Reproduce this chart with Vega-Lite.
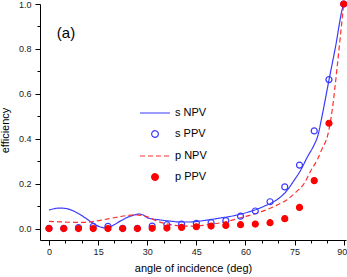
{
  "$schema": "https://vega.github.io/schema/vega-lite/v6.json",
  "width": 306,
  "height": 236,
  "autosize": {"type": "none"},
  "padding": {"left": 40, "top": 4, "right": 1, "bottom": 37},
  "background": "white",
  "config": {
    "view": {"stroke": null},
    "font": "Liberation Sans",
    "axis": {
      "grid": false,
      "domainColor": "#000000",
      "domainWidth": 1,
      "tickColor": "#000000",
      "labelColor": "#222222",
      "labelFontSize": 9,
      "labelFont": "Liberation Sans",
      "titleFont": "Liberation Sans",
      "titleFontSize": 11,
      "titleFontWeight": "normal",
      "titleColor": "#000000",
      "labelOverlap": false,
      "labelFlush": false
    },
    "legend": {
      "orient": "none",
      "legendX": 99,
      "legendY": 93,
      "padding": 0,
      "title": null,
      "labelFontSize": 11,
      "labelFont": "Liberation Sans",
      "labelColor": "#000000",
      "labelOffset": 4,
      "rowPadding": -7.2,
      "symbolSize": 100,
      "symbolStrokeWidth": 1.2
    }
  },
  "datasets": {
    "curves": [
      {"series": "s NPV", "angle": 0, "eff": 0.084},
      {"series": "s NPV", "angle": 1.5, "eff": 0.09},
      {"series": "s NPV", "angle": 3.5, "eff": 0.093},
      {"series": "s NPV", "angle": 5.5, "eff": 0.09},
      {"series": "s NPV", "angle": 7.5, "eff": 0.08},
      {"series": "s NPV", "angle": 9.5, "eff": 0.064},
      {"series": "s NPV", "angle": 11.5, "eff": 0.045},
      {"series": "s NPV", "angle": 13.5, "eff": 0.025},
      {"series": "s NPV", "angle": 15.5, "eff": 0.01},
      {"series": "s NPV", "angle": 17, "eff": 0.005},
      {"series": "s NPV", "angle": 18.5, "eff": 0.008},
      {"series": "s NPV", "angle": 20, "eff": 0.02},
      {"series": "s NPV", "angle": 22, "eff": 0.037},
      {"series": "s NPV", "angle": 24, "eff": 0.052},
      {"series": "s NPV", "angle": 26, "eff": 0.062},
      {"series": "s NPV", "angle": 27.5, "eff": 0.066},
      {"series": "s NPV", "angle": 28.8, "eff": 0.062},
      {"series": "s NPV", "angle": 30, "eff": 0.05},
      {"series": "s NPV", "angle": 31.5, "eff": 0.045},
      {"series": "s NPV", "angle": 34, "eff": 0.04},
      {"series": "s NPV", "angle": 37, "eff": 0.035},
      {"series": "s NPV", "angle": 40, "eff": 0.031},
      {"series": "s NPV", "angle": 43, "eff": 0.031},
      {"series": "s NPV", "angle": 46, "eff": 0.035},
      {"series": "s NPV", "angle": 49, "eff": 0.041},
      {"series": "s NPV", "angle": 52, "eff": 0.048},
      {"series": "s NPV", "angle": 55, "eff": 0.055},
      {"series": "s NPV", "angle": 58.5, "eff": 0.066},
      {"series": "s NPV", "angle": 61, "eff": 0.076},
      {"series": "s NPV", "angle": 63.5, "eff": 0.088},
      {"series": "s NPV", "angle": 66, "eff": 0.103},
      {"series": "s NPV", "angle": 68.5, "eff": 0.12},
      {"series": "s NPV", "angle": 70.7, "eff": 0.142},
      {"series": "s NPV", "angle": 72.5, "eff": 0.168},
      {"series": "s NPV", "angle": 74.8, "eff": 0.215},
      {"series": "s NPV", "angle": 76.8, "eff": 0.26},
      {"series": "s NPV", "angle": 78.9, "eff": 0.32},
      {"series": "s NPV", "angle": 81, "eff": 0.375},
      {"series": "s NPV", "angle": 82, "eff": 0.41},
      {"series": "s NPV", "angle": 83.5, "eff": 0.51},
      {"series": "s NPV", "angle": 85.5, "eff": 0.662},
      {"series": "s NPV", "angle": 87.5, "eff": 0.81},
      {"series": "s NPV", "angle": 89.6, "eff": 0.98},
      {"series": "s NPV", "angle": 90, "eff": 1.0},
      {"series": "p NPV", "angle": 0, "eff": 0.034},
      {"series": "p NPV", "angle": 3, "eff": 0.032},
      {"series": "p NPV", "angle": 6, "eff": 0.03},
      {"series": "p NPV", "angle": 9, "eff": 0.029},
      {"series": "p NPV", "angle": 11, "eff": 0.029},
      {"series": "p NPV", "angle": 13, "eff": 0.032},
      {"series": "p NPV", "angle": 15.5, "eff": 0.038},
      {"series": "p NPV", "angle": 18, "eff": 0.045},
      {"series": "p NPV", "angle": 21, "eff": 0.053},
      {"series": "p NPV", "angle": 24, "eff": 0.06},
      {"series": "p NPV", "angle": 26.5, "eff": 0.063},
      {"series": "p NPV", "angle": 28.5, "eff": 0.06},
      {"series": "p NPV", "angle": 30.5, "eff": 0.052},
      {"series": "p NPV", "angle": 32.5, "eff": 0.038},
      {"series": "p NPV", "angle": 35, "eff": 0.026},
      {"series": "p NPV", "angle": 38, "eff": 0.017},
      {"series": "p NPV", "angle": 41, "eff": 0.013},
      {"series": "p NPV", "angle": 44, "eff": 0.013},
      {"series": "p NPV", "angle": 47, "eff": 0.016},
      {"series": "p NPV", "angle": 50, "eff": 0.022},
      {"series": "p NPV", "angle": 54, "eff": 0.032},
      {"series": "p NPV", "angle": 58.5, "eff": 0.05},
      {"series": "p NPV", "angle": 63.5, "eff": 0.07},
      {"series": "p NPV", "angle": 66.6, "eff": 0.086},
      {"series": "p NPV", "angle": 69.5, "eff": 0.105},
      {"series": "p NPV", "angle": 72.7, "eff": 0.13},
      {"series": "p NPV", "angle": 75.5, "eff": 0.165},
      {"series": "p NPV", "angle": 77.8, "eff": 0.2},
      {"series": "p NPV", "angle": 80, "eff": 0.26},
      {"series": "p NPV", "angle": 82, "eff": 0.31},
      {"series": "p NPV", "angle": 83.5, "eff": 0.36},
      {"series": "p NPV", "angle": 85, "eff": 0.41},
      {"series": "p NPV", "angle": 86.5, "eff": 0.53},
      {"series": "p NPV", "angle": 88, "eff": 0.72},
      {"series": "p NPV", "angle": 89, "eff": 0.86},
      {"series": "p NPV", "angle": 90, "eff": 1.0}
    ],
    "points": [
      {"series": "s PPV", "angle": 0, "eff": 0.003},
      {"series": "s PPV", "angle": 4.5, "eff": 0.003},
      {"series": "s PPV", "angle": 9, "eff": 0.006},
      {"series": "s PPV", "angle": 13.5, "eff": 0.012},
      {"series": "s PPV", "angle": 18, "eff": 0.012},
      {"series": "s PPV", "angle": 22.5, "eff": 0.003},
      {"series": "s PPV", "angle": 27, "eff": 0.003},
      {"series": "s PPV", "angle": 31.5, "eff": 0.013},
      {"series": "s PPV", "angle": 36, "eff": 0.019},
      {"series": "s PPV", "angle": 40.5, "eff": 0.022},
      {"series": "s PPV", "angle": 45, "eff": 0.025},
      {"series": "s PPV", "angle": 49.5, "eff": 0.028},
      {"series": "s PPV", "angle": 54, "eff": 0.037},
      {"series": "s PPV", "angle": 58.5, "eff": 0.057},
      {"series": "s PPV", "angle": 63, "eff": 0.08},
      {"series": "s PPV", "angle": 67.5, "eff": 0.121},
      {"series": "s PPV", "angle": 72, "eff": 0.187},
      {"series": "s PPV", "angle": 76.5, "eff": 0.284},
      {"series": "s PPV", "angle": 81, "eff": 0.436},
      {"series": "s PPV", "angle": 85.5, "eff": 0.664},
      {"series": "s PPV", "angle": 90, "eff": 1.0},
      {"series": "p PPV", "angle": 0, "eff": 0.002},
      {"series": "p PPV", "angle": 4.5, "eff": 0.002},
      {"series": "p PPV", "angle": 9, "eff": 0.002},
      {"series": "p PPV", "angle": 13.5, "eff": 0.002},
      {"series": "p PPV", "angle": 18, "eff": 0.002},
      {"series": "p PPV", "angle": 22.5, "eff": 0.002},
      {"series": "p PPV", "angle": 27, "eff": 0.002},
      {"series": "p PPV", "angle": 31.5, "eff": 0.003},
      {"series": "p PPV", "angle": 36, "eff": 0.004},
      {"series": "p PPV", "angle": 40.5, "eff": 0.007},
      {"series": "p PPV", "angle": 45, "eff": 0.01},
      {"series": "p PPV", "angle": 49.5, "eff": 0.013},
      {"series": "p PPV", "angle": 54, "eff": 0.016},
      {"series": "p PPV", "angle": 58.5, "eff": 0.019},
      {"series": "p PPV", "angle": 63, "eff": 0.022},
      {"series": "p PPV", "angle": 67.5, "eff": 0.028},
      {"series": "p PPV", "angle": 72, "eff": 0.046},
      {"series": "p PPV", "angle": 76.5, "eff": 0.096},
      {"series": "p PPV", "angle": 81, "eff": 0.215},
      {"series": "p PPV", "angle": 85.5, "eff": 0.47},
      {"series": "p PPV", "angle": 90, "eff": 1.0}
    ],
    "annotation": [
      {"label": "(a)", "angle": 2.4, "eff": 0.873}
    ]
  },
  "encoding": {
    "x": {
      "field": "angle",
      "type": "quantitative",
      "scale": {"domain": [-2.75, 90.7], "nice": false, "zero": false},
      "axis": {
        "title": "angle of incidence (deg)",
        "values": [0, 5, 10, 15, 20, 25, 30, 35, 40, 45, 50, 55, 60, 65, 70, 75, 80, 85, 90],
        "labelExpr": "datum.value % 15 === 0 ? datum.label : ''",
        "tickSize": {"condition": {"test": "datum.value % 15 === 0", "value": 5}, "value": 3},
        "labelOffset": {"condition": {"test": "datum.value === 90", "value": -2}, "value": 0},
        "labelPadding": 2,
        "titlePadding": 6
      }
    },
    "y": {
      "field": "eff",
      "type": "quantitative",
      "scale": {"domain": [-0.049, 1.0], "nice": false, "zero": false},
      "axis": {
        "title": "efficiency",
        "values": [0, 0.1, 0.2, 0.3, 0.4, 0.5, 0.6, 0.7, 0.8, 0.9, 1.0],
        "labelExpr": "round(datum.value * 10) % 2 === 0 ? format(datum.value, '.1f') : ''",
        "tickSize": {"condition": {"test": "round(datum.value * 10) % 2 === 0", "value": 5}, "value": 3},
        "labelPadding": 4,
        "titlePadding": 8,
        "titleY": 126
      }
    }
  },
  "layer": [
    {
      "data": {"name": "curves"},
      "mark": {"type": "line", "interpolate": "monotone", "strokeWidth": 1.2},
      "encoding": {
        "stroke": {
          "field": "series",
          "type": "nominal",
          "sort": ["s NPV", "s PPV", "p NPV", "p PPV"],
          "scale": {"domain": ["s NPV", "s PPV", "p NPV", "p PPV"], "range": ["#3a3aff", "#3a3aff", "#ff3030", "#ff0000"]},
          "legend": {
            "encode": {
              "symbols": {
                "update": {
                  "shape": {"signal": "datum.value === 's PPV' || datum.value === 'p PPV' ? 'circle' : 'stroke'"},
                  "size": {"signal": "datum.value === 's PPV' || datum.value === 'p PPV' ? 44 : 900"},
                  "fill": {"signal": "datum.value === 'p PPV' ? '#ff0000' : 'transparent'"},
                  "strokeDash": {"signal": "datum.value === 'p NPV' ? [5, 3] : [1, 0]"},
                  "strokeWidth": {"value": 1.2}
                }
              }
            }
          }
        },
        "strokeDash": {
          "field": "series",
          "type": "nominal",
          "legend": null,
          "scale": {"domain": ["s NPV", "s PPV", "p NPV", "p PPV"], "range": [[1, 0], [1, 0], [5, 3], [1, 0]]}
        }
      }
    },
    {
      "data": {"name": "points"},
      "mark": {"type": "point", "strokeWidth": 1.2, "opacity": 1, "size": 36},
      "encoding": {
        "stroke": {
          "field": "series",
          "type": "nominal",
          "sort": ["s NPV", "s PPV", "p NPV", "p PPV"],
          "scale": {"domain": ["s NPV", "s PPV", "p NPV", "p PPV"], "range": ["#3a3aff", "#3a3aff", "#ff3030", "#ff0000"]}
        },
        "fill": {
          "condition": {"test": "datum.series === 'p PPV'", "value": "#ff0000"},
          "value": "transparent"
        }
      }
    },
    {
      "data": {"name": "annotation"},
      "mark": {"type": "text", "align": "left", "baseline": "middle", "fontSize": 15, "font": "Liberation Sans", "color": "#000000"},
      "encoding": {
        "text": {"field": "label", "type": "nominal"}
      }
    }
  ]
}
